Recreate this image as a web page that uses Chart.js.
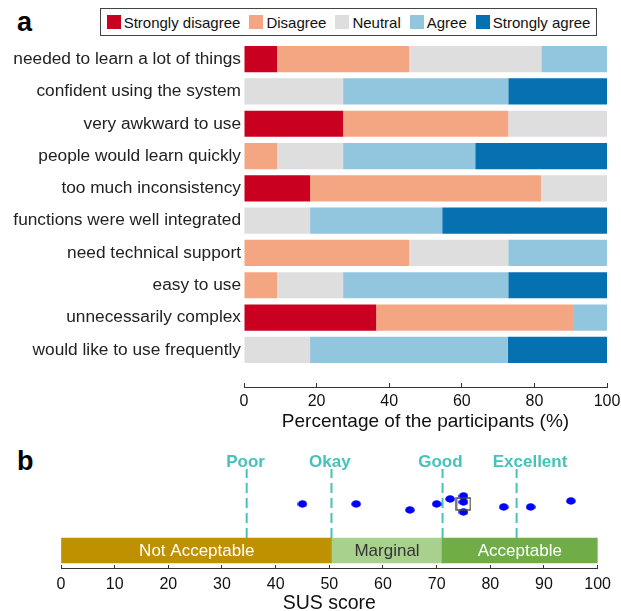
<!DOCTYPE html>
<html>
<head>
<meta charset="utf-8">
<script src="https://cdn.jsdelivr.net/npm/chart.js@4.4.0/dist/chart.umd.min.js"></script>
<style>
  body { margin: 0; background: #fff; font-family: "Liberation Sans", Arial, sans-serif; }
  #wrap { position: relative; width: 621px; height: 611px; }
  canvas { position: absolute; left: 0; }
  #ca { top: 0; }
  #cb { top: 440px; }
  .tag { position: absolute; left: 17px; font-weight: bold; font-size: 27px; line-height: 27px; color: #000; }
  #legend {
    position: absolute; left: 100px; top: 8px; width: 495px; height: 26px;
    border: 1px solid #444; display: flex; align-items: center; justify-content: center;
    font-size: 15px; color: #111; gap: 9px;
  }
  #legend span.it { display: flex; align-items: center; }
  #legend i { display: inline-block; width: 14px; height: 14px; margin-right: 3px; }
</style>
</head>
<body>
<div id="wrap">
  <div class="tag" style="top:9px">a</div>
  <div id="legend"></div>
  <canvas id="ca" width="621" height="434"></canvas>
  <div class="tag" style="top:448px">b</div>
  <canvas id="cb" width="621" height="171"></canvas>
</div>
<script>
// ── panel a: SUS questionnaire answers (% of 11 participants) ──
var statements = [
  "needed to learn a lot of things",
  "confident using the system",
  "very awkward to use",
  "people would learn quickly",
  "too much inconsistency",
  "functions were well integrated",
  "need technical support",
  "easy to use",
  "unnecessarily complex",
  "would like to use frequently"
];
var answerLevels   = ["Strongly disagree", "Disagree", "Neutral", "Agree", "Strongly agree"];
var stronglyDisagree = [9.1, 0,    27.3, 0,    18.2, 0,    0,    0,    36.4, 0];
var disagree         = [36.4, 0,   45.5, 9.1,  63.6, 0,    45.5, 9.1,  54.5, 0];
var neutral          = [36.4, 27.3, 27.3, 18.2, 18.2, 18.2, 27.3, 18.2, 0,   18.2];
var agree            = [18.2, 45.5, 0,    36.4, 0,    36.4, 27.3, 45.5, 9.1,  54.5];
var stronglyAgree    = [0,    27.3, 0,    36.4, 0,    45.5, 0,    27.3, 0,    27.3];
var pctTicks = [0, 20, 40, 60, 80, 100];

// ── panel b: SUS scores ──
var susScores = [45, 55, 65, 70, 72.5, 75, 75, 75, 82.5, 87.5, 95];
var susJitter = [64, 64, 58, 64, 69, 72, 66, 56, 61, 61, 67];
var medianScore = 75;
var zoneNames = ["Not Acceptable", "Marginal", "Acceptable"];
var zoneStart = [0, 50.5, 71];
var zoneEnd   = [50.5, 71, 100];
var adjectives = ["Poor", "Okay", "Good", "Excellent"];
var adjectiveAt = [34.6, 50.4, 71.1, 84.9];
var adjectiveTextAt = [34.4, 50.1, 70.7, 87.4];

var LEVEL_COLORS = ["#ca0020", "#f4a582", "#dedede", "#92c5de", "#0571b0"];
var ZONE_COLORS = ["#bf9000", "#a9d18e", "#70ad47"];
var ZONE_TEXT = ["#ffffff", "#333333", "#ffffff"];
var TEAL = "#47c2ba";
var FONT = '"Liberation Sans", Arial, sans-serif';

Chart.defaults.font.family = FONT;
Chart.defaults.color = "#111";

// legend (html, boxed)
var lg = document.getElementById("legend");
answerLevels.forEach(function(name, i) {
  var s = document.createElement("span");
  s.className = "it";
  s.innerHTML = '<i style="background:' + LEVEL_COLORS[i] + '"></i>' + name;
  lg.appendChild(s);
});

function rows(vals) {
  return vals.map(function(v, i) { return { x: v, y: i }; });
}

var series = [stronglyDisagree, disagree, neutral, agree, stronglyAgree];

new Chart(document.getElementById("ca"), {
  type: "bar",
  data: {
    datasets: series.map(function(vals, k) {
      return {
        label: answerLevels[k],
        data: rows(vals),
        backgroundColor: LEVEL_COLORS[k],
        borderWidth: 0,
        categoryPercentage: 1,
        barPercentage: 0.81
      };
    })
  },
  options: {
    indexAxis: "y",
    responsive: false,
    animation: false,
    layout: { padding: { top: 43, right: 14, left: 0, bottom: 0 } },
    plugins: { legend: { display: false }, tooltip: { enabled: false } },
    scales: {
      x: {
        type: "linear", min: 0, max: 100, stacked: true, offset: false,
        afterBuildTicks: function(s) { s.ticks = pctTicks.map(function(v) { return { value: v }; }); },
        ticks: { font: { size: 16 }, color: "#111", padding: 9 },
        grid: { drawOnChartArea: false, tickLength: -4, color: "#333" },
        border: { color: "#333", width: 1 },
        title: { display: true, text: "Percentage of the participants (%)", font: { size: 19 }, color: "#111", padding: { top: 0, bottom: 1 } },
        afterFit: function(s) { s.height = 47; s.paddingLeft = 0; s.paddingRight = 0; }
      },
      y: {
        type: "linear", reverse: true, min: -0.5, max: 10.15, stacked: true, offset: false,
        afterBuildTicks: function(s) { s.ticks = statements.map(function(_, i) { return { value: i }; }); },
        ticks: { callback: function(v) { return statements[v]; }, font: { size: 17.3 }, color: "#222", padding: 3, autoSkip: false },
        grid: { display: false, drawTicks: false },
        border: { display: false },
        afterFit: function(s) { s.width = 244; }
      }
    }
  }
});

// point glyphs for panel b
function ellipseGlyph() {
  var c = document.createElement("canvas");
  c.width = 10; c.height = 8;
  var g = c.getContext("2d");
  g.fillStyle = "#0000ff";
  g.beginPath(); g.ellipse(5, 4, 4.8, 3.7, 0, 0, Math.PI * 2); g.fill();
  return c;
}
function boxGlyph() {
  var c = document.createElement("canvas");
  c.width = 16; c.height = 14;
  var g = c.getContext("2d");
  g.strokeStyle = "#444"; g.lineWidth = 1.4;
  g.strokeRect(1, 1, 14, 12);
  return c;
}

var BAND_Y = 17.5;

var bandLabels = {
  id: "bandLabels",
  afterDatasetsDraw: function(chart) {
    var ctx = chart.ctx, xs = chart.scales.x, top = chart.chartArea.top;
    ctx.save();
    ctx.textAlign = "center";
    ctx.textBaseline = "middle";
    ctx.font = "17px " + FONT;
    chart.getDatasetMeta(chart.data.datasets.length - 1).data.forEach(function(bar, i) {
      var c = bar.getCenterPoint();
      ctx.fillStyle = ZONE_TEXT[i];
      ctx.fillText(zoneNames[i], c.x, c.y + 1);
    });
    ctx.font = "bold 17px " + FONT;
    ctx.fillStyle = TEAL;
    adjectives.forEach(function(a, i) {
      ctx.fillText(a, xs.getPixelForValue(adjectiveTextAt[i]), top - 7);
    });
    ctx.restore();
  }
};

var lineSets = adjectiveAt.map(function(v, i) {
  return {
    type: "line",
    label: adjectives[i],
    data: [{ x: v, y: 30 }, { x: v, y: 99 }],
    borderColor: TEAL, borderWidth: 2, borderDash: [10, 5],
    pointRadius: 0, order: 3
  };
});

new Chart(document.getElementById("cb"), {
  type: "scatter",
  data: {
    datasets: [
      {
        label: "median",
        data: [{ x: medianScore, y: 64 }],
        pointStyle: boxGlyph(), pointRadius: 7, order: 0
      },
      {
        label: "SUS",
        data: susScores.map(function(s, i) { return { x: s, y: susJitter[i] }; }),
        pointStyle: ellipseGlyph(), pointRadius: 5, order: 1
      }
    ].concat(lineSets).concat([
      {
        type: "bar",
        label: "zones",
        indexAxis: "y",
        data: zoneNames.map(function(z, i) { return { x: [zoneStart[i], zoneEnd[i]], y: BAND_Y }; }),
        backgroundColor: ZONE_COLORS,
        borderWidth: 0,
        barThickness: 25,
        order: 5
      }
    ])
  },
  options: {
    responsive: false,
    animation: false,
    layout: { padding: { top: 29, right: 23, left: 0, bottom: 0 } },
    plugins: { legend: { display: false }, tooltip: { enabled: false } },
    scales: {
      x: {
        type: "linear", min: 0, max: 100, offset: false,
        ticks: { stepSize: 10, font: { size: 16 }, color: "#111", padding: 10 },
        grid: { drawOnChartArea: false, tickLength: -3, color: "#333" },
        border: { color: "#333", width: 1 },
        title: { display: true, text: "SUS score", font: { size: 19.5 }, color: "#111", padding: { top: 0, bottom: -4 } },
        afterFit: function(s) { s.height = 43; }
      },
      y: {
        type: "linear", min: 0, max: 99, offset: false,
        afterBuildTicks: function(s) { s.ticks = [{ value: 64 }]; },
        ticks: { callback: function() { return ""; } },
        grid: { drawOnChartArea: false, tickLength: -3, color: "#555" },
        border: { display: false },
        afterFit: function(s) { s.width = 61; }
      }
    }
  },
  plugins: [bandLabels]
});
</script>
</body>
</html>
